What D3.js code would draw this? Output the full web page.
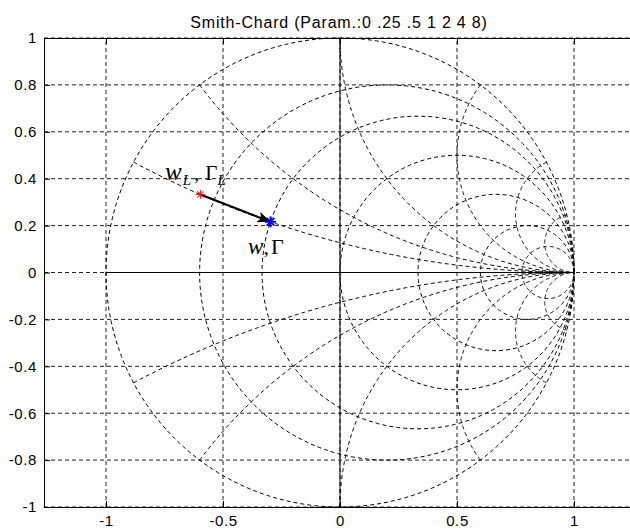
<!DOCTYPE html>
<html>
<head>
<meta charset="utf-8">
<script src="https://cdn.jsdelivr.net/npm/d3@7"></script>
<style>
  html, body { margin: 0; padding: 0; background: #fff; }
  svg { display: block; }
</style>
</head>
<body>
<svg id="chart" width="630" height="530"></svg>
<script>
// ---- data ----
const titleText = "Smith-Chard (Param.:0 .25 .5 1 2 4 8)";
const params = [0, 0.25, 0.5, 1, 2, 4, 8];           // r and x values of the chart
const xTicks = [-1, -0.5, 0, 0.5, 1];
const yTicks = [-1, -0.8, -0.6, -0.4, -0.2, 0, 0.2, 0.4, 0.6, 0.8, 1];
const xTickLabels = ["-1", "-0.5", "0", "0.5", "1"];
const yTickLabels = ["-1", "-0.8", "-0.6", "-0.4", "-0.2", "0", "0.2", "0.4", "0.6", "0.8", "1"];
const gammaL = [-0.597, 0.333];   // load reflection point (red)
const gamma  = [-0.297, 0.216];   // reflection point (blue)
const labelL = [-0.748, 0.395];   // position of "w_L, Γ_L"
const label0 = [-0.393, 0.077];   // position of "w, Γ"

// ---- layout ----
const svg = d3.select("#chart");
const x = d3.scaleLinear().domain([-1.265, 1.265]).range([44, 636]);
const y = d3.scaleLinear().domain([-1, 1]).range([507, 38]);

const line = d3.line().x(d => x(d[0])).y(d => y(d[1]));

// grid
const grid = svg.append("g").attr("stroke", "#222").attr("stroke-width", 1)
  .attr("stroke-dasharray", "4,3").attr("fill", "none");
xTicks.forEach(t => grid.append("line").attr("x1", x(t)).attr("x2", x(t)).attr("y1", y(-1)).attr("y2", y(1)));
yTicks.forEach(t => grid.append("line").attr("x1", x(-1.265)).attr("x2", x(1.265)).attr("y1", y(t)).attr("y2", y(t)));

// Smith chart curves
const curves = svg.append("g").attr("stroke", "#000").attr("stroke-width", 1)
  .attr("stroke-dasharray", "4,3").attr("fill", "none");
const N = 240;
// constant-resistance circles
params.forEach(r => {
  const cx = r / (1 + r), rad = 1 / (1 + r);
  const pts = d3.range(N + 1).map(i => {
    const a = 2 * Math.PI * i / N;
    return [cx + rad * Math.cos(a), rad * Math.sin(a)];
  });
  curves.append("path").attr("d", line(pts));
});
// constant-reactance arcs
params.filter(v => v > 0).forEach(xv => {
  [1, -1].forEach(s => {
    const cy = 1 / xv, rad = 1 / xv;
    const px = (xv * xv - 1) / (xv * xv + 1), py = 2 * xv / (xv * xv + 1);
    let a0 = Math.atan2(py - cy, px - 1);
    if (a0 < 0) a0 += 2 * Math.PI;
    const a1 = 1.5 * Math.PI;
    const pts = d3.range(N + 1).map(i => {
      const a = a0 + (a1 - a0) * i / N;
      return [1 + rad * Math.cos(a), s * (cy + rad * Math.sin(a))];
    });
    curves.append("path").attr("d", line(pts));
  });
});

// solid axes through origin
svg.append("line").attr("x1", x(-1)).attr("x2", x(1)).attr("y1", y(0)).attr("y2", y(0))
  .attr("stroke", "#000").attr("stroke-width", 1);
svg.append("line").attr("x1", x(0)).attr("x2", x(0)).attr("y1", y(-1)).attr("y2", y(1))
  .attr("stroke", "#000").attr("stroke-width", 1);

// axes
const fontFam = "'Liberation Sans', Arial, sans-serif";
const ax = svg.append("g").attr("transform", `translate(0,${y(-1)})`)
  .call(d3.axisBottom(x).tickValues(xTicks).tickFormat((d, i) => xTickLabels[i]).tickSize(-6).tickPadding(8));
const ay = svg.append("g").attr("transform", `translate(${x(-1.265)},0)`)
  .call(d3.axisLeft(y).tickValues(yTicks).tickFormat((d, i) => yTickLabels[i]).tickSize(-6).tickPadding(7));
const at = svg.append("g").attr("transform", `translate(0,${y(1)})`)
  .call(d3.axisTop(x).tickValues(xTicks).tickFormat("").tickSize(-6));
[ax, ay, at].forEach(g => {
  g.select(".domain").attr("stroke", "#000");
  g.selectAll(".tick line").attr("stroke", "#000");
  g.selectAll("text").attr("fill", "#000").style("font-family", fontFam)
    .style("font-size", "15px").style("letter-spacing", "0.6px");
});

// title
svg.append("text").attr("x", 339).attr("y", 28).attr("text-anchor", "middle")
  .style("font-family", fontFam).style("font-size", "16px").style("letter-spacing", "0.8px")
  .text(titleText);

// arrow
svg.append("defs").append("marker").attr("id", "arrow")
  .attr("viewBox", "0 0 12 10").attr("refX", 12).attr("refY", 5)
  .attr("markerWidth", 6).attr("markerHeight", 5).attr("orient", "auto")
  .append("path").attr("d", "M0,0 L12,5 L0,10 L3,5 z").attr("fill", "#000");
svg.append("line").attr("x1", x(gammaL[0])).attr("y1", y(gammaL[1]))
  .attr("x2", x(gamma[0])).attr("y2", y(gamma[1]))
  .attr("stroke", "#000").attr("stroke-width", 2.2).attr("marker-end", "url(#arrow)");

// star markers
function star(p, color, size, w) {
  const g = svg.append("g").attr("transform", `translate(${x(p[0])},${y(p[1])})`)
    .attr("stroke", color).attr("stroke-width", w);
  [0, 45, 90, 135].forEach(a => {
    const rad = a * Math.PI / 180;
    g.append("line").attr("x1", -size * Math.cos(rad)).attr("y1", -size * Math.sin(rad))
      .attr("x2", size * Math.cos(rad)).attr("y2", size * Math.sin(rad));
  });
}
star(gammaL, "#ff0000", 4.5, 1);
star(gamma, "#0000ff", 5.5, 1.8);

// labels
const serif = "'Liberation Serif', 'Times New Roman', serif";
const tL = svg.append("text").attr("x", x(labelL[0])).attr("y", y(labelL[1]))
  .style("font-family", serif).style("font-size", "21px").attr("fill", "#000");
tL.append("tspan").style("font-style", "italic").style("font-size", "25px").text("w");
tL.append("tspan").attr("dy", 5).attr("dx", 1).style("font-size", "15px").style("font-style", "italic").text("L");
tL.append("tspan").attr("dy", -5).attr("dx", 3).text(",");
tL.append("tspan").attr("dx", 6).text("Γ");
tL.append("tspan").attr("dy", 5).style("font-size", "15px").style("font-style", "italic").text("L");

const t0 = svg.append("text").attr("x", x(label0[0])).attr("y", y(label0[1]))
  .style("font-family", serif).style("font-size", "22px").attr("fill", "#000");
t0.append("tspan").style("font-style", "italic").style("font-size", "23px").text("w");
t0.append("tspan").text(",");
t0.append("tspan").attr("dx", 2).text("Γ");
</script>
</body>
</html>
